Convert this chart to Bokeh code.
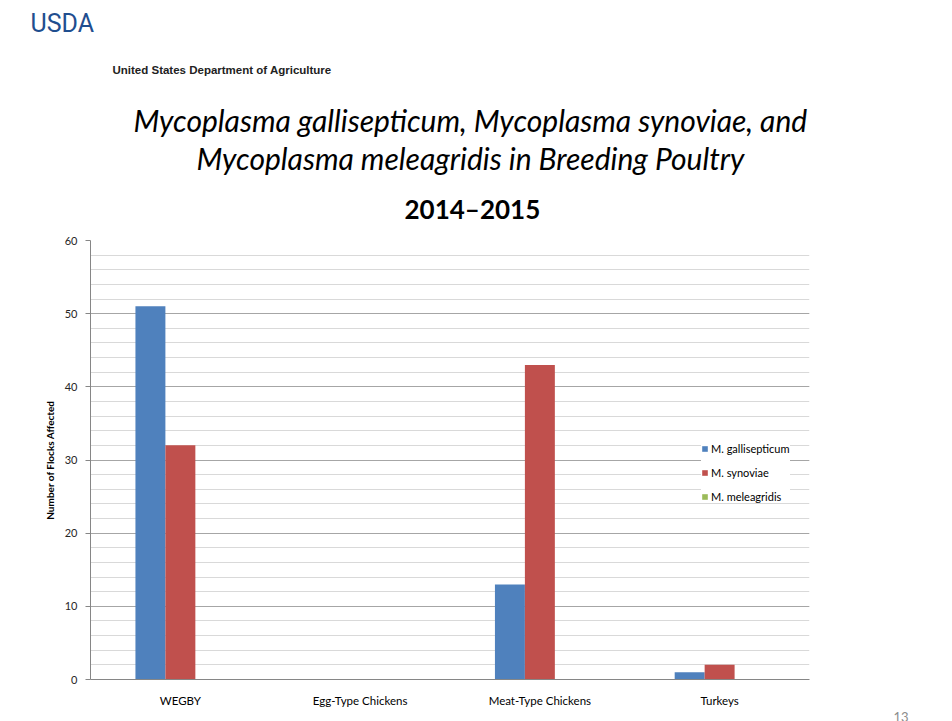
from bokeh.plotting import figure
from bokeh.models import (FactorRange, Range1d, SingleIntervalTicker, Title,
                          Legend, LegendItem, ColumnDataSource)
from bokeh.transform import dodge
from bokeh.embed import file_html
from bokeh.resources import INLINE

# ---- data ----
categories = ["WEGBY", "Egg-Type Chickens", "Meat-Type Chickens", "Turkeys"]
m_gallisepticum = [51, 0, 13, 1]
m_synoviae = [32, 0, 43, 2]
m_meleagridis = [0, 0, 0, 0]
series_names = ["M. gallisepticum", "M. synoviae", "M. meleagridis"]
series_colors = ["#4f81bd", "#c0504d", "#9bbb59"]
y_ticks_interval = 10
page_number = "13"
title_lines = ["Mycoplasma gallisepticum, Mycoplasma synoviae, and",
               "Mycoplasma meleagridis in Breeding Poultry",
               "2014\u20132015"]

source = ColumnDataSource(dict(cat=categories, mg=m_gallisepticum,
                               ms=m_synoviae, mm=m_meleagridis))

W, H = 952, 721
FL, FR, FT, FB = 90, 809, 240, 681

p = figure(width=W, height=H, x_range=FactorRange(*categories, range_padding=0),
           y_range=Range1d(0, 60), output_backend="svg", toolbar_location=None,
           min_border_left=FL, min_border_right=W - FR, min_border_top=FT,
           min_border_bottom=H - FB)
p.outline_line_color = None
p.background_fill_color = "white"
p.border_fill_color = "white"

bw = 1 / 6
renderers = []
for off, field, col in zip([-bw, 0, bw], ["mg", "ms", "mm"], series_colors):
    r = p.vbar(x=dodge("cat", off, range=p.x_range), top=field, width=bw,
               source=source, fill_color=col, line_color=None)
    renderers.append(r)

p.yaxis.ticker = SingleIntervalTicker(interval=y_ticks_interval, num_minor_ticks=5)
p.ygrid.ticker = p.yaxis.ticker
p.ygrid.grid_line_color = "#a6a6a6"
p.ygrid.minor_grid_line_color = "#d9d9d9"
p.xgrid.grid_line_color = None

p.yaxis.axis_line_color = "#868686"
p.yaxis.major_tick_line_color = "#868686"
p.yaxis.major_tick_out = 5
p.yaxis.major_tick_in = 0
p.yaxis.minor_tick_line_color = None
p.yaxis.major_label_standoff = 8
p.yaxis.major_label_text_font = "Lato"
p.yaxis.major_label_text_font_size = "11px"
p.yaxis.major_label_text_color = "#262626"
p.yaxis.axis_label = "Number of Flocks Affected"
p.yaxis.axis_label_text_font = "Lato"
p.yaxis.axis_label_text_font_size = "10px"
p.yaxis.axis_label_text_font_style = "bold"
p.yaxis.axis_label_text_color = "#000000"
p.yaxis.axis_label_standoff = 6

p.xaxis.axis_line_color = "#868686"
p.xaxis.major_tick_line_color = None
p.xaxis.minor_tick_line_color = None
p.xaxis.major_label_standoff = 8
p.xaxis.major_label_text_font = "Lato"
p.xaxis.major_label_text_font_size = "11.5px"
p.xaxis.major_label_text_color = "#000000"

# ---- titles (stacked upward from the plot area, left-aligned with offsets) ----
TF = "Lato"
p.add_layout(Title(text=title_lines[2], align="left", offset=314, text_font=TF,
                   text_font_size="26px", text_font_style="bold", text_color="#000000",
                   standoff=31), "above")
p.add_layout(Title(text=title_lines[1], align="left", offset=106, text_font=TF,
                   text_font_size="30px", text_font_style="italic", text_color="#000000",
                   standoff=0), "above")
p.add_layout(Title(text=title_lines[0], align="left", offset=43, text_font=TF,
                   text_font_size="30px", text_font_style="italic", text_color="#000000",
                   standoff=0), "above")
p.add_layout(Title(text="United States Department of Agriculture", align="left", offset=22,
                   text_font="Liberation Sans", text_font_size="11.5px",
                   text_font_style="bold", text_color="#222222", standoff=48), "above")
p.add_layout(Title(text="USDA", align="left", offset=-60, text_font="Roboto",
                   text_font_size="25px", text_font_style="normal", text_color="#1f4e8f",
                   standoff=0), "above")

# ---- page number ----
p.add_layout(Title(text=page_number, align="left", offset=803, text_font="Lato",
                   text_font_size="13px", text_font_style="normal", text_color="#8c8c8c",
                   standoff=0), "below")

# ---- series legend (inside the plot area, at its right edge) ----
legend = Legend(items=[LegendItem(label=n, renderers=[r]) for n, r in zip(series_names, renderers)],
                location=(611, 176), orientation="vertical")
legend.glyph_width = 7
legend.glyph_height = 7
legend.label_height = 14
legend.label_standoff = 3
legend.spacing = 10
legend.padding = 4
legend.margin = 0
legend.border_line_color = None
legend.background_fill_color = "white"
legend.background_fill_alpha = 1
legend.label_text_font = "Lato"
legend.label_text_font_size = "11px"
legend.label_text_color = "#000000"
p.add_layout(legend, "center")

open("out.html", "w").write(file_html(p, INLINE))
